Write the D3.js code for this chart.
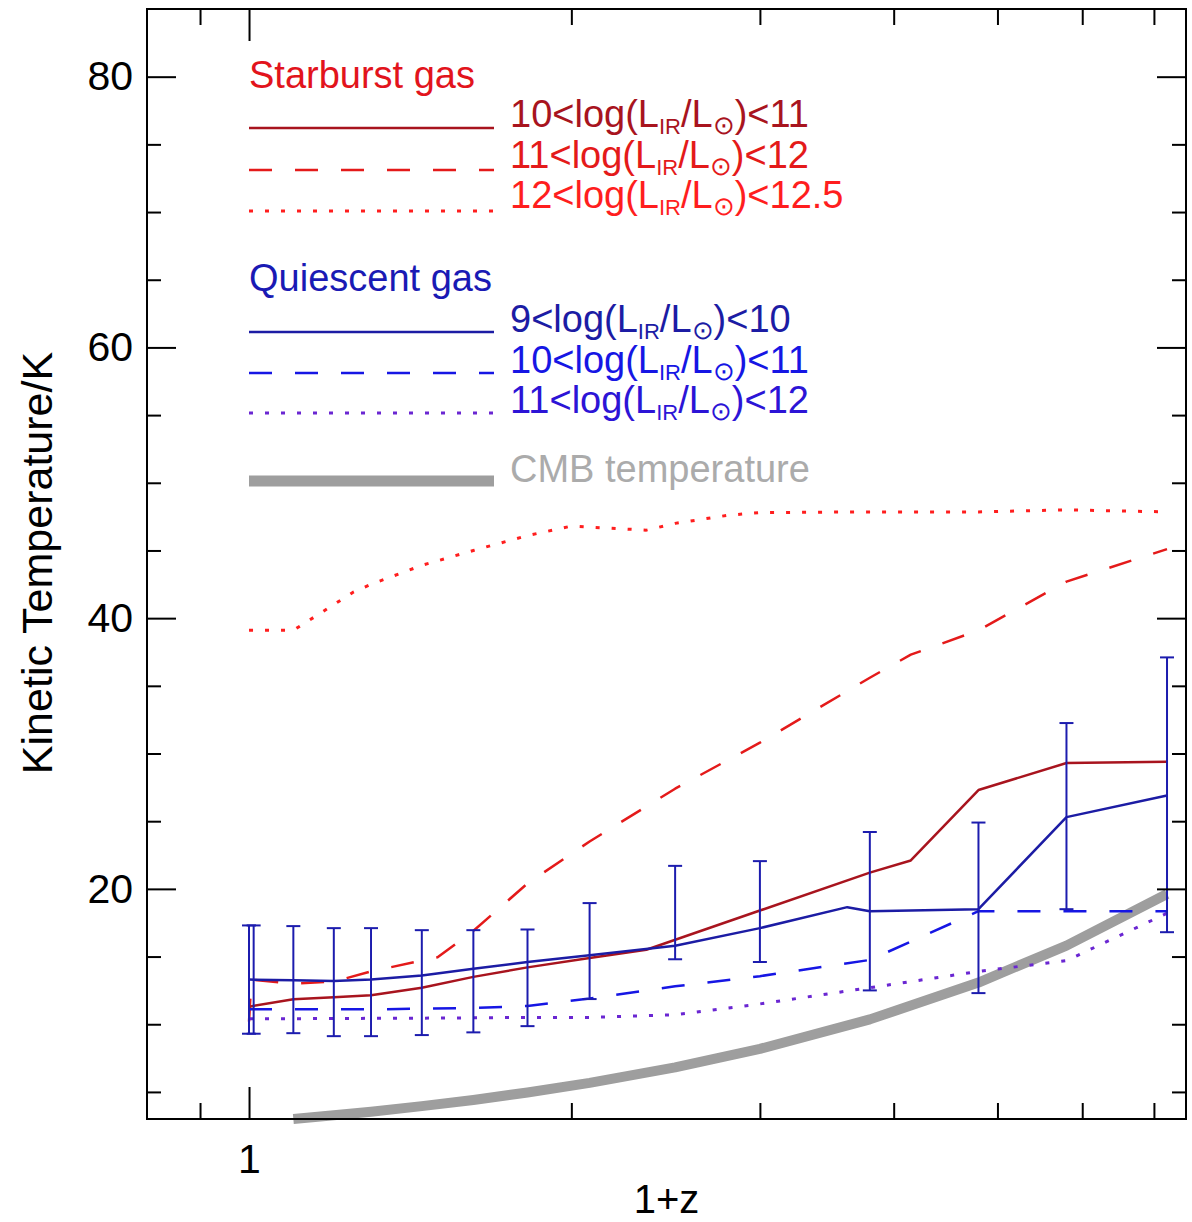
<!DOCTYPE html>
<html>
<head>
<meta charset="utf-8">
<script src="https://cdn.jsdelivr.net/npm/d3@7"></script>
<style>
  body { margin: 0; background: #fff; }
  svg { display: block; font-family: "Liberation Sans", Arial, Helvetica, sans-serif; }
</style>
</head>
<body>
<svg id="chart" width="1192" height="1222"></svg>
<script>
// ---- data (x = 1+z, y = kinetic temperature in K) ----
// starburst gas, 10<log(LIR)<11
const sbLowX = [1.0, 1.1, 1.2, 1.3, 1.45, 1.62, 1.82, 2.08, 2.35, 3.0, 3.8, 4.15, 4.8, 5.8, 7.2];
const sbLowT = [11.3, 11.85, 12.0, 12.15, 12.7, 13.5, 14.2, 14.9, 15.5, 18.4, 21.2, 22.1, 27.3, 29.3, 29.4];
// starburst gas, 11<log(LIR)<12
const sbMidX = [1.0, 1.005, 1.1, 1.2, 1.3, 1.5, 1.62, 1.82, 2.08, 2.5, 3.0, 3.8, 4.15, 4.8, 5.8, 7.2];
const sbMidT = [10.2, 13.3, 13.0, 13.15, 13.9, 14.95, 16.9, 20.4, 23.5, 27.4, 30.8, 35.6, 37.3, 39.1, 42.7, 45.1];
// starburst gas, 12<log(LIR)<12.5
const sbHighX = [1.0, 1.1, 1.2, 1.25, 1.3, 1.45, 1.62, 1.82, 2.0, 2.35, 2.5, 2.8, 3.0, 3.8, 4.8, 5.8, 7.2];
const sbHighT = [39.1, 39.1, 41.0, 41.9, 42.5, 43.9, 45.0, 46.1, 46.8, 46.5, 47.0, 47.6, 47.8, 47.85, 47.85, 48.0, 47.85];

// quiescent gas, 9<log(LIR)<10
const qLowX = [1.0, 1.1, 1.2, 1.3, 1.45, 1.62, 1.82, 2.08, 2.5, 3.0, 3.62, 3.8, 4.8, 5.8, 7.2];
const qLowT = [13.3, 13.25, 13.2, 13.3, 13.6, 14.1, 14.6, 15.1, 15.8, 17.1, 18.65, 18.35, 18.5, 25.3, 26.9];
// quiescent gas, 10<log(LIR)<11
const qMidX = [1.0, 1.1, 1.2, 1.3, 1.45, 1.62, 1.82, 2.08, 2.5, 3.0, 3.8, 4.8, 5.8, 7.2];
const qMidT = [11.1, 11.1, 11.1, 11.1, 11.15, 11.2, 11.35, 11.9, 12.8, 13.55, 14.75, 18.35, 18.35, 18.35];
// quiescent gas, 11<log(LIR)<12
const qHighX = [1.0, 1.45, 1.82, 2.08, 2.5, 3.0, 3.8, 4.8, 5.8, 7.2];
const qHighT = [10.4, 10.45, 10.5, 10.5, 10.7, 11.5, 12.7, 13.9, 14.7, 18.2];

// error bars on the 9<log(LIR)<10 quiescent model
const errX = [1.0, 1.01, 1.1, 1.2, 1.3, 1.45, 1.62, 1.82, 2.08, 2.5, 3.0, 3.8, 4.8, 5.8, 7.2];
const errHi = [17.3, 17.3, 17.25, 17.1, 17.1, 16.95, 16.95, 17.0, 18.95, 21.7, 22.05, 24.2, 24.9, 32.25, 37.1];
const errLo = [9.3, 9.3, 9.34, 9.12, 9.12, 9.2, 9.4, 9.86, 11.86, 14.8, 14.6, 12.5, 12.3, 18.5, 16.8];

// CMB temperature
const cmbX = [1.1, 1.2, 1.3, 1.45, 1.62, 1.82, 2.08, 2.5, 3.0, 3.8, 4.8, 5.8, 7.2];
const cmbT = [3.0, 3.27, 3.54, 3.95, 4.41, 4.96, 5.67, 6.81, 8.18, 10.36, 13.08, 15.81, 19.62];

// ticks
const yMajor = [20, 40, 60, 80];
const yMinor = [5, 10, 15, 25, 30, 35, 45, 50, 55, 65, 70, 75];
const xMajor = [1];
const xMinor = [0.9, 2, 3, 4, 5, 6, 7];

// legend text
const sbTitle = "Starburst gas";
const sbRanges = [["10", "11"], ["11", "12"], ["12", "12.5"]];
const qTitle = "Quiescent gas";
const qRanges = [["9", "10"], ["10", "11"], ["11", "12"]];
const cmbLabel = "CMB temperature";

// ---- layout ----
const dims = { left: 147, right: 1186, top: 9, bottom: 1119 };

const x = d3.scaleLog().domain([0.803, 7.5]).range([dims.left, dims.right]);
const y = d3.scaleLinear().domain([3, 85]).range([dims.bottom, dims.top]);

const svg = d3.select("#chart");

const colors = {
    sbTitle: "#e2141c",
    sbLow: "#a8141e",
    sbMid: "#e41a1a",
    sbHigh: "#ff1e1e",
    qTitle: "#1a1ab4",
    qLow: "#1c1ca4",
    qMid: "#1616e4",
    qHigh: "#6a26d2",
    qHighText: "#2c14d6",
    err: "#1c1cae",
    cmb: "#9e9e9e",
    cmbText: "#ababab"
};

const dashed = "23 23";
const dotted = "4 12";

const line = d3.line().x(d => x(d[0])).y(d => y(d[1]));

function drawSeries(xs, ts, color, width, dash) {
    svg.append("path")
        .datum(d3.zip(xs, ts))
        .attr("d", line)
        .attr("fill", "none")
        .attr("stroke", color)
        .attr("stroke-width", width)
        .attr("stroke-linejoin", "round")
        .attr("stroke-dasharray", dash || null);
}

// CMB underneath everything
drawSeries(cmbX, cmbT, colors.cmb, 10);

drawSeries(sbHighX, sbHighT, colors.sbHigh, 3, dotted);
drawSeries(sbMidX, sbMidT, colors.sbMid, 2.5, dashed);
drawSeries(qHighX, qHighT, colors.qHigh, 3, dotted);
drawSeries(qMidX, qMidT, colors.qMid, 2.5, dashed);
drawSeries(sbLowX, sbLowT, colors.sbLow, 2.5);
drawSeries(qLowX, qLowT, colors.qLow, 2.5);

// error bars
const errData = errX.map((v, i) => ({ x: v, lo: errLo[i], hi: errHi[i] }));
const eb = svg.append("g").attr("stroke", colors.err).attr("stroke-width", 2);
eb.selectAll(".bar").data(errData).enter().append("line")
    .attr("x1", d => x(d.x)).attr("x2", d => x(d.x))
    .attr("y1", d => y(d.lo)).attr("y2", d => y(d.hi));
eb.selectAll(".capHi").data(errData).enter().append("line")
    .attr("x1", d => x(d.x) - 7).attr("x2", d => x(d.x) + 7)
    .attr("y1", d => y(d.hi)).attr("y2", d => y(d.hi));
eb.selectAll(".capLo").data(errData).enter().append("line")
    .attr("x1", d => x(d.x) - 7).attr("x2", d => x(d.x) + 7)
    .attr("y1", d => y(d.lo)).attr("y2", d => y(d.lo));

// ---- axes (ticks point inward on all four sides) ----
function styleAxis(g) {
    g.select(".domain").remove();
    g.selectAll("line").attr("stroke", "#000").attr("stroke-width", 2);
    g.selectAll("text").attr("fill", "#000").style("font-size", "41px")
        .style("font-family", "'Liberation Sans', Arial, Helvetica, sans-serif");
}

svg.append("g").attr("transform", `translate(${dims.left},0)`)
    .call(d3.axisLeft(y).tickValues(yMajor).tickSize(-29).tickPadding(14).tickFormat(d3.format("d")))
    .call(styleAxis);
svg.append("g").attr("transform", `translate(${dims.left},0)`)
    .call(d3.axisLeft(y).tickValues(yMinor).tickSize(-14).tickFormat(""))
    .call(styleAxis);
svg.append("g").attr("transform", `translate(${dims.right},0)`)
    .call(d3.axisRight(y).tickValues(yMajor).tickSize(-29).tickFormat(""))
    .call(styleAxis);
svg.append("g").attr("transform", `translate(${dims.right},0)`)
    .call(d3.axisRight(y).tickValues(yMinor).tickSize(-14).tickFormat(""))
    .call(styleAxis);

svg.append("g").attr("transform", `translate(0,${dims.bottom})`)
    .call(d3.axisBottom(x).tickValues(xMajor).tickSize(-32).tickPadding(25).tickFormat(d3.format("d")))
    .call(styleAxis);
svg.append("g").attr("transform", `translate(0,${dims.bottom})`)
    .call(d3.axisBottom(x).tickValues(xMinor).tickSize(-16).tickFormat(""))
    .call(styleAxis);
svg.append("g").attr("transform", `translate(0,${dims.top})`)
    .call(d3.axisTop(x).tickValues(xMajor).tickSize(-32).tickFormat(""))
    .call(styleAxis);
svg.append("g").attr("transform", `translate(0,${dims.top})`)
    .call(d3.axisTop(x).tickValues(xMinor).tickSize(-16).tickFormat(""))
    .call(styleAxis);

svg.append("rect")
    .attr("x", dims.left).attr("y", dims.top)
    .attr("width", dims.right - dims.left).attr("height", dims.bottom - dims.top)
    .attr("fill", "none").attr("stroke", "#000").attr("stroke-width", 2);

// axis titles
svg.append("text")
    .attr("x", (dims.left + dims.right) / 2)
    .attr("y", 1213)
    .attr("text-anchor", "middle")
    .style("font-size", "40px")
    .text("1+z");

svg.append("text")
    .attr("transform", `translate(52,${563}) rotate(-90)`)
    .attr("text-anchor", "middle")
    .style("font-size", "43px")
    .text("Kinetic Temperature/K");

// ---- legend ----
const legX1 = 249, legX2 = 494, labX = 510;

function legendLabel(lo, hi, yPos, color) {
    const t = svg.append("text")
        .attr("x", labX).attr("y", yPos)
        .attr("fill", color)
        .style("font-size", "38px");
    t.append("tspan").text(`${lo}<log(L`);
    t.append("tspan").attr("dy", 7).style("font-size", "22px").text("IR");
    t.append("tspan").attr("dy", -7).text("/L");
    t.append("tspan").attr("dy", 7).style("font-size", "26px").text("\u2299");
    t.append("tspan").attr("dy", -7).text(`)<${hi}`);
}

function legendLine(yPos, color, width, dash) {
    svg.append("line")
        .attr("x1", legX1).attr("x2", legX2)
        .attr("y1", yPos).attr("y2", yPos)
        .attr("stroke", color).attr("stroke-width", width)
        .attr("stroke-dasharray", dash || null);
}

svg.append("text").attr("x", legX1).attr("y", 88)
    .attr("fill", colors.sbTitle).style("font-size", "38px").text(sbTitle);

const sbStyles = [
    { c: colors.sbLow, t: colors.sbLow, w: 2.5, d: null, ly: 128, ty: 127 },
    { c: colors.sbMid, t: colors.sbMid, w: 2.5, d: dashed, ly: 170, ty: 168 },
    { c: colors.sbHigh, t: colors.sbHigh, w: 3, d: dotted, ly: 211, ty: 208 }
];
sbRanges.forEach((r, i) => {
    const s = sbStyles[i];
    legendLine(s.ly, s.c, s.w, s.d);
    legendLabel(r[0], r[1], s.ty, s.t);
});

svg.append("text").attr("x", legX1).attr("y", 291)
    .attr("fill", colors.qTitle).style("font-size", "38px").text(qTitle);

const qStyles = [
    { c: colors.qLow, t: colors.qLow, w: 2.5, d: null, ly: 332, ty: 332 },
    { c: colors.qMid, t: colors.qMid, w: 2.5, d: dashed, ly: 373, ty: 373 },
    { c: colors.qHigh, t: colors.qHighText, w: 3, d: dotted, ly: 413, ty: 413 }
];
qRanges.forEach((r, i) => {
    const s = qStyles[i];
    legendLine(s.ly, s.c, s.w, s.d);
    legendLabel(r[0], r[1], s.ty, s.t);
});

legendLine(481, colors.cmb, 11);
svg.append("text").attr("x", labX).attr("y", 482)
    .attr("fill", colors.cmbText).style("font-size", "38px").text(cmbLabel);
</script>
</body>
</html>
